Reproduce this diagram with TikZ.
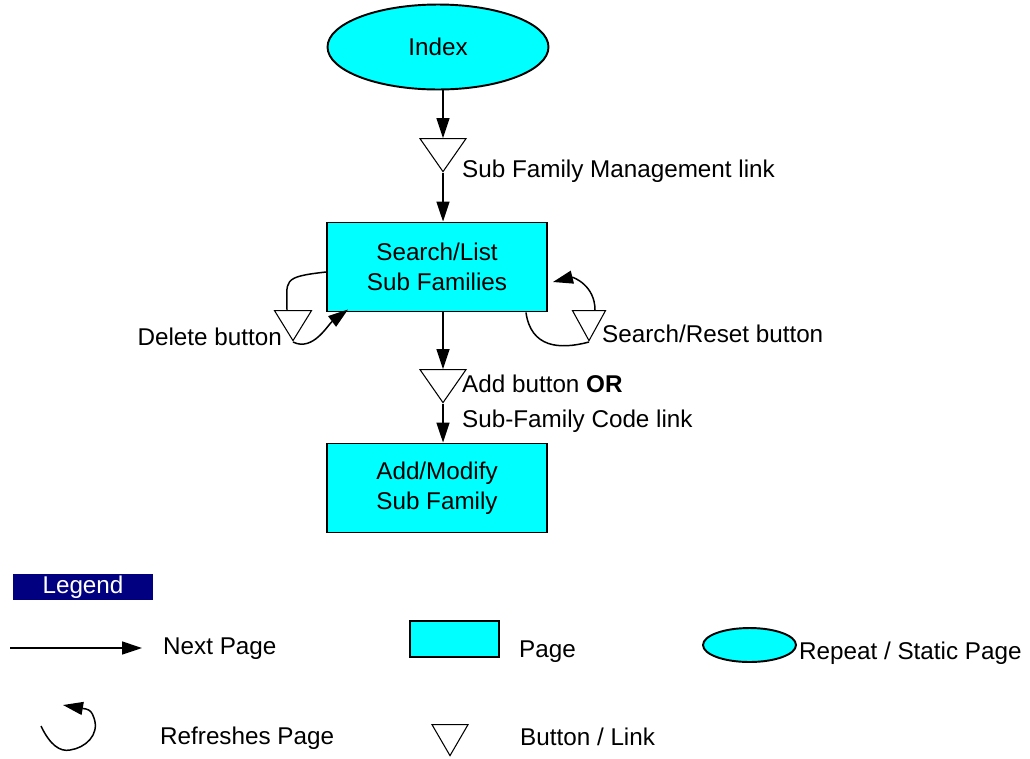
\documentclass[tikz,border=0pt]{standalone}
\usepackage{fontspec}
\setmainfont{Liberation Sans}
\usetikzlibrary{positioning,shapes.geometric,arrows.meta}

\definecolor{pagecyan}{RGB}{0,255,255}
\definecolor{legendnavy}{RGB}{0,0,128}

\tikzset{
  page/.style={rectangle, draw, fill=pagecyan, line width=1.1pt, minimum width=4.4cm, minimum height=1.78cm, align=center},
  static/.style={ellipse, draw, fill=pagecyan, line width=1.1pt, minimum width=4.42cm, minimum height=1.7cm},
  btn/.style={isosceles triangle, isosceles triangle stretches, shape border rotate=-90, draw, line width=0.6pt, inner sep=0pt, anchor=apex, minimum width=0.92cm, minimum height=0.66cm},
  next/.style={-{Triangle[length=0.4cm,width=0.26cm]}, line width=0.85pt},
  refresh/.style={line width=0.85pt},
}

\begin{document}
\begin{tikzpicture}[x=0.02cm, y=-0.02cm, every node/.style={font=\fontsize{13.8}{17}\selectfont}]
    \useasboundingbox (0,0) rectangle (1030,758);
    % pages and buttons
    \node (index) [static] at (438,47) {Index};
    \node (smlink) [btn] at (443,173) {};
    \node (search) [page] at (437,267) {Search/List\\Sub Families};
    \node (addlink) [btn] at (443,404) {};
    \node (modify) [page] at (437,488) {Add/Modify\\Sub Family};
    \node (delete) [btn, minimum width=0.74cm, minimum height=0.6cm] at (293,342) {};
    \node (reset) [btn, minimum width=0.66cm, minimum height=0.6cm] at (589,342) {};
    % labels
    \node (smlinktext) [right=0.26cm of smlink.apex, yshift=0.04cm] {Sub Family Management link};
    \node (addlinktext) [right=0.26cm of addlink.apex, align=left, font=\fontsize{13.8}{19.8}\selectfont] {Add button \textbf{OR}\\Sub-Family Code link};
    \node (deletetext) [left=0.1cm of delete.apex, yshift=0.1cm] {Delete button};
    \node (resettext) [right=0.14cm of reset.apex, yshift=0.16cm] {Search/Reset button};
    % arrows
    \draw[next] (index.south -| smlink) -- (smlink.lower side);
    \draw[next] (smlink.apex) -- (search.north -| smlink);
    \draw[next] (search.south -| addlink) -- (addlink.lower side);
    \draw[next] (addlink.apex) -- (modify.north -| addlink);
    % refresh loops
    \draw[refresh] ([yshift=-0.1cm]search.west) .. controls +(-45,5) and +(0,-30) .. ([xshift=-0.12cm]delete.lower side);
    \draw[refresh, next] (delete.apex) .. controls +(20,10) and +(-20,15) .. ([xshift=0.44cm,yshift=0.06cm]search.south west);
    \draw[refresh] ([xshift=-0.44cm]search.south east) .. controls +(5,35) and +(-30,8) .. (reset.apex);
    \draw[refresh, next] ([xshift=0.12cm]reset.lower side) .. controls +(0,-25) and +(20,-5) .. ([xshift=0.1cm,yshift=-0.3cm]search.east);
    % legend
    \node (legend) [fill=legendnavy, text=white, minimum width=2.8cm, minimum height=0.52cm, inner sep=0pt] at (83,587) {Legend};
    \coordinate (nextfrom) at (10,648);
    \coordinate (nextto) at (142,648);
    \draw[next] (nextfrom) -- (nextto);
    \node (nexttext) [anchor=west] at (157,649) {Next Page};
    \draw[refresh, next] (41,726) .. controls (50,745) and (60,752) .. (70,750) .. controls (85,748) and (100,735) .. (94,718) .. controls (92,712) and (90,710) .. (86,709) -- (63,705);
    \node (refreshtext) [anchor=west] at (154,738) {Refreshes Page};
    \node (pagekey) [page, minimum width=1.78cm, minimum height=0.72cm] at (454.5,639) {};
    \node (pagetext) [right=0.26cm of pagekey, yshift=-0.26cm] {Page};
    \node (statickey) [static, minimum width=1.86cm, minimum height=0.68cm] at (749.5,645) {};
    \node (statictext) [right=-0.08cm of statickey, yshift=-0.16cm] {Repeat / Static Page};
    \node (btnkey) [btn, minimum width=0.72cm, minimum height=0.62cm] at (450,757) {};
    \node (btntext) [anchor=west] at (514,737) {Button / Link};
\end{tikzpicture}
\end{document}
